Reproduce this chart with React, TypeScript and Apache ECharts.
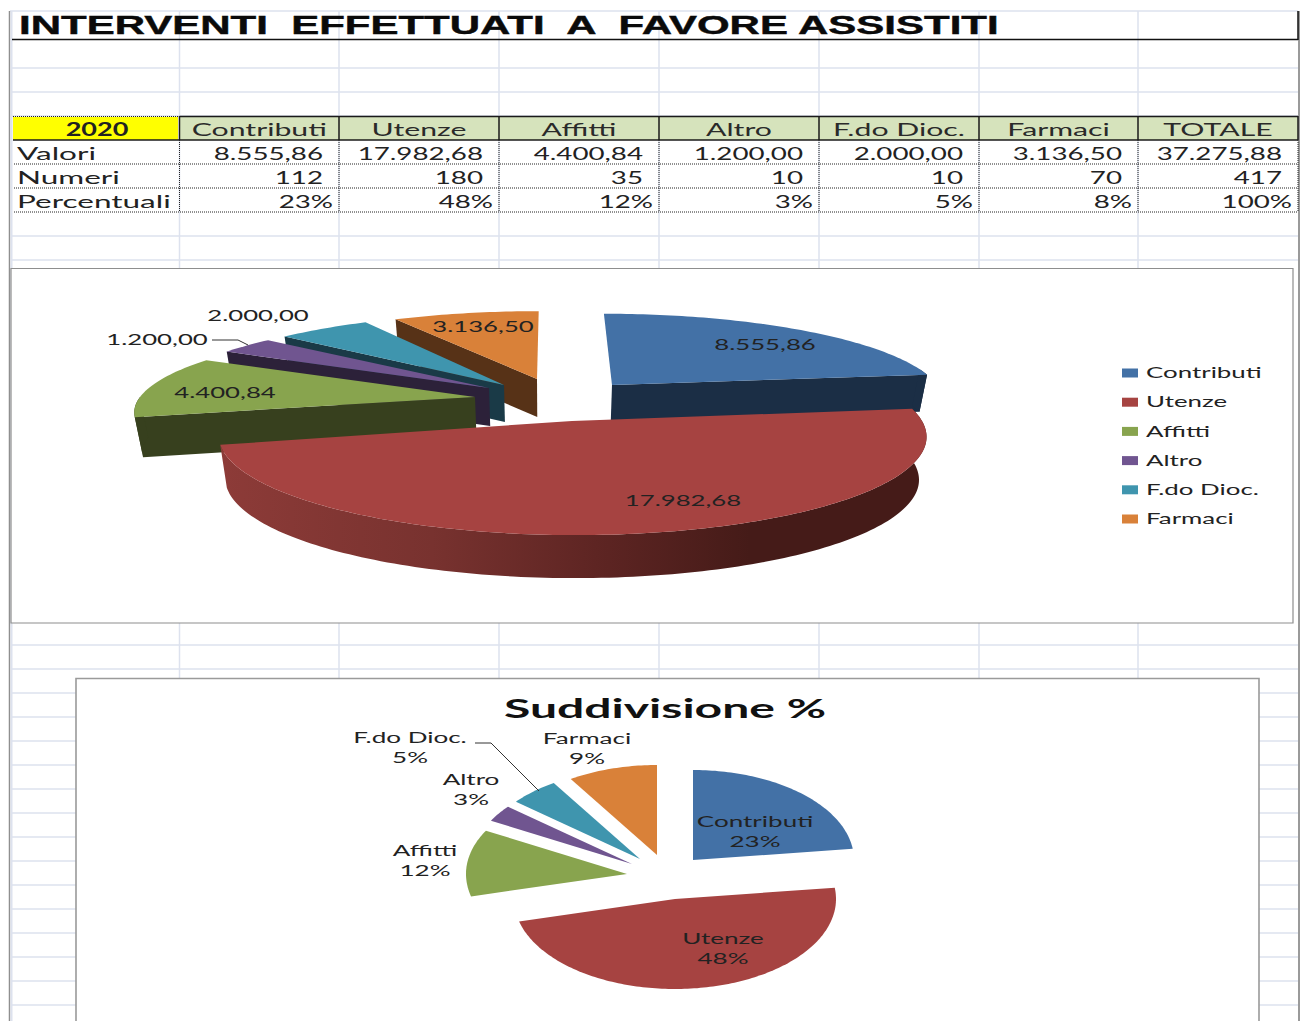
import React, { useEffect, useRef } from "react";
import * as echarts from "echarts";

const categories = ["Contributi", "Utenze", "Affitti", "Altro", "F.do Dioc.", "Farmaci"];
const valori = [8555.86, 17982.68, 4400.84, 1200.0, 2000.0, 3136.5];
const valoriLabels = ["8.555,86", "17.982,68", "4.400,84", "1.200,00", "2.000,00", "3.136,50", "37.275,88"];
const numeriLabels = ["112", "180", "35", "10", "10", "70", "417"];
const percentLabels = ["23%", "48%", "12%", "3%", "5%", "8%", "100%"];
const piePercent = [23, 48, 12, 3, 5, 9];
const headerLabels = [...categories, "TOTALE"];
const rowNames = ["Valori", "Numeri", "Percentuali"];
const colors = ["#4371a6", "#a64341", "#88a44e", "#705590", "#3f95ae", "#d98139"];
const wallColors = ["#1b2e45", "#451b18", "#37401e", "#2c2139", "#1a3a47", "#573217"];

// layout only
const W = 1304, H = 1021;
const colX = [179.5, 339, 499, 659, 819, 979, 1138, 1298];
const FONT = "Lato";
const K = 0.15, VP = 550, BOTTOM = 0.98;
const top3d = [
  { ax: 612, ay: 385, r: 325, rv: 82, h: 37, lx: 765, ly: 344 },
  { ax: 572, ay: 421, r: 350, rv: 97, h: 43, lx: 683, ly: 500 },
  { ax: 475, ay: 397, r: 335, rv: 82, h: 40, lx: 225, ly: 392 },
  { ax: 489, ay: 388, r: 326, rv: 81, h: 38, lx: 157, ly: 339 },
  { ax: 504, ay: 385, r: 322, rv: 82, h: 37, lx: 258, ly: 315 },
  { ax: 537, ay: 379, r: 320, rv: 78, h: 38, lx: 483, ly: 326 },
];
const paintOrder = [5, 4, 3, 2, 0, 1];
const legendY = [372, 401, 431, 460, 489, 518];
const flat = [
  { ax: 693, ay: 860, lx: 755, ly: 831 },
  { ax: 675, ay: 899, lx: 723, ly: 948 },
  { ax: 627, ay: 874, lx: 425, ly: 860 },
  { ax: 632, ay: 864, lx: 471, ly: 789 },
  { ax: 640, ay: 859, lx: 410, ly: 747 },
  { ax: 657, ay: 855, lx: 587, ly: 748 },
];
const FRX = 161, FRY = 90;

const sum = (a: number[]) => a.reduce((p, c) => p + c, 0);
const angleOf = (vals: number[], i: number) => (sum(vals.slice(0, i)) / sum(vals)) * Math.PI * 2;

function proj(p: any, t: number) {
  const X = Math.sin(t), Y = Math.cos(t), s = 1 / (1 + K * Y);
  return [p.ax + (p.ax - VP) * (s - 1) + p.r * X * s, p.ay - p.rv * Y * s];
}
const down = (p: any, q: number[]) => [VP + (q[0] - VP) * BOTTOM, q[1] + p.h];

function arcPts(f: (t: number) => number[], a: number, b: number) {
  const n = Math.max(4, Math.ceil((b - a) / 0.02));
  const out: number[][] = [];
  for (let i = 0; i <= n; i++) out.push(f(a + ((b - a) * i) / n));
  return out;
}

function label(text: string, x: number, y: number, size: number, sx: number, opt: any = {}) {
  return {
    type: "text",
    x,
    y,
    scaleX: sx,
    z: opt.z ?? 10,
    silent: true,
    style: {
      text,
      fill: opt.fill ?? "#222222",
      fontFamily: opt.font ?? FONT,
      fontSize: size,
      fontWeight: opt.weight ?? "normal",
      align: opt.align ?? "center",
      verticalAlign: "middle",
      ...(opt.border ? { stroke: opt.fill ?? "#222222", lineWidth: opt.border } : {}),
    },
  };
}
const line = (x1: number, y1: number, x2: number, y2: number, stroke: string, lineWidth = 1.5, dash?: number[], z = 1) => ({
  type: "line",
  z,
  silent: true,
  shape: { x1, y1, x2, y2 },
  style: { stroke, lineWidth, lineDash: dash },
});
const GRID = "#dde2ee";

function sheet() {
  const g: any[] = [];
  g.push({ type: "rect", z: 0, shape: { x: 0, y: 0, width: W, height: H }, style: { fill: "#ffffff" } });
  // pale grid
  for (const y of [68, 92, 116, 236, 260, 645, 669, 693, 717, 741, 765, 789, 813, 837, 861, 885, 909, 933, 957, 981, 1005])
    g.push(line(11, y, 1298, y, GRID));
  g.push(line(10, 11, 1298, 11, GRID));
  for (const x of colX.slice(0, 7)) g.push(line(x, 11, x, 1021, GRID));
  // edges
  g.push(line(9.5, 11, 9.5, 1021, "#8f8f8f", 1.5));
  g.push(line(11.5, 11, 11.5, 1021, GRID, 2));
  g.push(line(1299, 11, 1299, 1021, "#9a9a9a", 2));
  // title cell
  g.push(line(12, 39.5, 1298, 39.5, "#111111", 1.5, undefined, 3));
  g.push(line(1298, 11, 1298, 40, "#111111", 1.5, undefined, 3));
  g.push(label("INTERVENTI  EFFETTUATI  A  FAVORE ASSISTITI", 19, 25.5, 25, 1.68, { font: "Liberation Sans", weight: "bold", align: "left", fill: "#0a0a0a", border: 0.4 }));
  // table
  g.push({ type: "rect", z: 2, shape: { x: 13, y: 117, width: 165, height: 23 }, style: { fill: "#ffff00" } });
  g.push({ type: "rect", z: 2, shape: { x: 179.5, y: 116.5, width: 1118.5, height: 23.5 }, style: { fill: "#d6e3bc" } });
  g.push(line(13, 116.5, 178, 116.5, "#222222", 1, [1, 1], 3));
  g.push(line(179.5, 116.5, 1298, 116.5, "#1a1a1a", 1.5, undefined, 3));
  g.push(line(13, 140, 1298, 140, "#1a1a1a", 1.5, undefined, 3));
  for (const x of colX) g.push(line(x, 116, x, 140, "#1a1a1a", 1.5, undefined, 3));
  for (const x of colX) g.push(line(x, 140, x, 212, "#222222", 1, [1, 1], 3));
  for (const y of [164, 188, 212]) g.push(line(14, y, 1298, y, "#222222", 1, [1, 1], 3));
  g.push(label("2020", 97, 129, 18, 1.5, { weight: "bold" }));
  headerLabels.forEach((t, i) => g.push(label(t, (colX[i] + colX[i + 1]) / 2, 129, 18, 1.68, { fill: "#2a2a2a" })));
  rowNames.forEach((t, i) => g.push(label(t, 17, 153 + i * 24, 18, 1.75, { align: "left" })));
  const rows = [valoriLabels, numeriLabels, percentLabels];
  rows.forEach((row, r) =>
    row.forEach((t, i) =>
      g.push(label(t, colX[i + 1] - (r === 2 ? 6 : 16), 153 + r * 24, 18, 1.54, { align: "right" })),
    ),
  );
  // chart frames
  g.push({ type: "rect", z: 4, shape: { x: 11, y: 268.5, width: 1282, height: 354.5 }, style: { fill: "#ffffff", stroke: "#8e8e8e", lineWidth: 1.2 } });
  g.push({ type: "rect", z: 4, shape: { x: 76, y: 678.5, width: 1183, height: 360 }, style: { fill: "#ffffff", stroke: "#9a9a9a", lineWidth: 1.6 } });
  // legend names
  categories.forEach((t, i) => g.push(label(t, 1146, legendY[i], 15.5, 1.67, { align: "left" })));
  // chart title
  g.push(label("Suddivisione %", 665, 708, 27, 1.78, { weight: "bold", fill: "#111111" }));
  // leaders
  g.push({ type: "polyline", z: 8, shape: { points: [[212, 340], [238, 340], [248, 345]] }, style: { stroke: "#333333", lineWidth: 1, fill: "none" } });
  g.push({ type: "polyline", z: 8, shape: { points: [[475, 743], [491, 743], [539, 791]] }, style: { stroke: "#333333", lineWidth: 1, fill: "none" } });
  return g;
}

function slice3d(i: number) {
  return {
    type: "custom",
    name: categories[i],
    coordinateSystem: "none",
    itemStyle: { color: colors[i] },
    z: 5,
    silent: true,
    data: [[valori[i]]],
    renderItem: (_: any, api: any) => {
      const a = angleOf(valori, i);
      const b = a + (api.value(0) / sum(valori)) * Math.PI * 2;
      const p = top3d[i];
      const f = (t: number) => proj(p, t);
      const apex = [p.ax, p.ay];
      const kids: any[] = [];
      const wall = (q: number[]) => ({
        type: "polygon",
        shape: { points: [apex, q, down(p, q), down(p, apex)] },
        style: { fill: wallColors[i] },
      });
      if (a > Math.PI) kids.push(wall(f(a)));
      if (b < Math.PI) kids.push(wall(f(b)));
      const from = Math.max(a, Math.PI / 2 - 0.2), to = Math.min(b, (Math.PI * 3) / 2);
      if (to > from) {
        const t = arcPts(f, from, to);
        const isRed = i === 1;
        kids.push({
          type: "polygon",
          shape: { points: [...t, ...t.slice().reverse().map((q) => down(p, q))] },
          style: {
            fill: isRed
              ? new echarts.graphic.LinearGradient(0, 0, 1, 0, [
                  { offset: 0, color: "#8d3b38" },
                  { offset: 0.3, color: "#78322f" },
                  { offset: 0.55, color: "#5c2422" },
                  { offset: 0.75, color: "#451b18" },
                  { offset: 1, color: "#451b18" },
                ])
              : wallColors[i],
          },
        });
      }
      kids.push({
        type: "polygon",
        shape: { points: [apex, ...arcPts(f, a, b)] },
        style: { fill: colors[i] },
      });
      kids.push(label(valoriLabels[i], p.lx, p.ly, 15.5, 1.66));
      return { type: "group", children: kids };
    },
  };
}

const flatSeries = {
  type: "custom",
  name: "Suddivisione %",
  coordinateSystem: "none",
  z: 5,
  silent: true,
  data: piePercent.map((v) => [v]),
  renderItem: (params: any, api: any) => {
    const i = params.dataIndex;
    const a = angleOf(piePercent, i);
    const b = a + (api.value(0) / sum(piePercent)) * Math.PI * 2;
    const p = flat[i];
    const pts = arcPts((t) => [p.ax + FRX * Math.sin(t), p.ay - FRY * Math.cos(t)], a, b);
    return {
      type: "group",
      children: [
        { type: "polygon", shape: { points: [[p.ax, p.ay], ...pts] }, style: { fill: colors[i] } },
        label(categories[i], p.lx, p.ly - 10, 15.5, 1.68),
        label(piePercent[i] + "%", p.lx, p.ly + 10, 15.5, 1.68),
      ],
    };
  },
};

export default function App() {
  const ref = useRef<HTMLDivElement>(null);
  useEffect(() => {
    document.body.style.margin = "0";
    document.body.style.overflow = "hidden";
    const chart = echarts.init(ref.current!, undefined, { renderer: "svg" });
    chart.setOption({
      animation: false,
      backgroundColor: "#ffffff",
      legend: {
        data: categories,
        orient: "vertical",
        left: 1117,
        top: 363.5,
        icon: "rect",
        itemWidth: 16,
        itemHeight: 9,
        itemGap: 20.2,
        selectedMode: false,
        z: 20,
        formatter: () => "",
        textStyle: { fontSize: 1 },
      },
      graphic: { elements: sheet() },
      series: [...paintOrder.map(slice3d), flatSeries],
    });
    return () => chart.dispose();
  }, []);
  return <div ref={ref} style={{ width: W, height: H, position: "absolute", left: 0, top: 0 }} />;
}
